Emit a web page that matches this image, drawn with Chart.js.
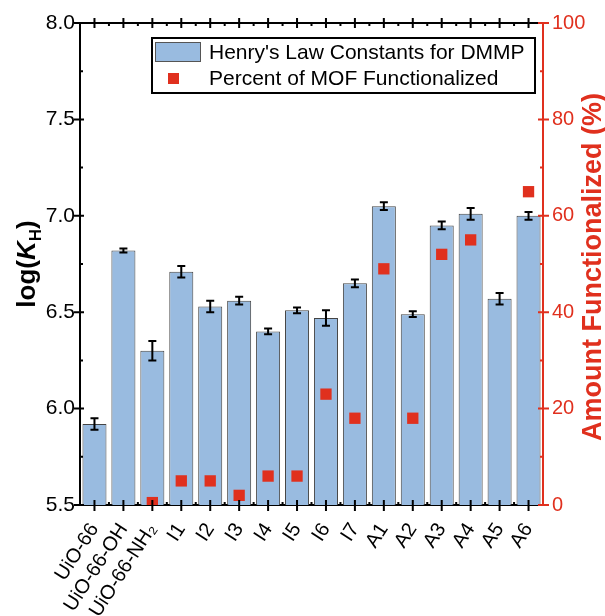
<!DOCTYPE html>
<html>
<head>
<meta charset="utf-8">
<script src="https://cdn.jsdelivr.net/npm/chart.js@4.4.1/dist/chart.umd.min.js"></script>
<style>
  html, body { margin: 0; padding: 0; background: #fff; }
  #wrap { width: 605px; height: 616px; }
</style>
</head>
<body>
<div id="wrap"><canvas id="c" width="605" height="616"></canvas></div>
<script>
const labels = ["UiO-66", "UiO-66-OH", "UiO-66-NH\u2082", "I1", "I2", "I3", "I4", "I5", "I6", "I7", "A1", "A2", "A3", "A4", "A5", "A6"];
const logKH = [5.92, 6.82, 6.30, 6.71, 6.53, 6.56, 6.40, 6.51, 6.47, 6.65, 7.05, 6.49, 6.95, 7.01, 6.57, 7.00];
const logKHErr = [0.03, 0.01, 0.05, 0.03, 0.03, 0.02, 0.015, 0.015, 0.04, 0.02, 0.02, 0.015, 0.02, 0.03, 0.03, 0.02];
const pctFunctionalized = [null, null, 0.5, 5, 5, 2, 6, 6, 23, 18, 49, 18, 52, 55, null, 65];
const leftTicks = [5.5, 6.0, 6.5, 7.0, 7.5, 8.0];
const rightTicks = [0, 20, 40, 60, 80, 100];

const RED = "#e0301e";
const BLUE = "#99bbe0";
const FONT = "'Liberation Sans', Arial, sans-serif";

// error bars, custom ticks, axis titles and the boxed legend
const decor = {
  id: "decor",
  afterDatasetsDraw(chart) {
    const { ctx, scales: { x, y } } = chart;
    ctx.save();
    ctx.strokeStyle = "#000";
    ctx.lineWidth = 2;
    logKH.forEach((v, i) => {
      const e = logKHErr[i];
      const px = x.getPixelForValue(i);
      const y0 = y.getPixelForValue(v - e);
      const y1 = y.getPixelForValue(v + e);
      ctx.beginPath();
      ctx.moveTo(px, y0); ctx.lineTo(px, y1);
      ctx.moveTo(px - 4, y0); ctx.lineTo(px + 4, y0);
      ctx.moveTo(px - 4, y1); ctx.lineTo(px + 4, y1);
      ctx.stroke();
    });
    ctx.restore();
  },
  afterDraw(chart) {
    const { ctx, chartArea: { left, right, top, bottom }, scales: { x, y, y1 } } = chart;
    ctx.save();
    ctx.lineWidth = 2;
    ctx.strokeStyle = "#000";
    // top frame line
    ctx.beginPath();
    ctx.moveTo(left, top); ctx.lineTo(right, top);
    ctx.stroke();
    // category ticks, top and bottom
    const step = x.getPixelForValue(1) - x.getPixelForValue(0);
    ctx.beginPath();
    labels.forEach((_, i) => {
      const px = x.getPixelForValue(i);
      ctx.moveTo(px, bottom - 5); ctx.lineTo(px, bottom + 6);
      ctx.moveTo(px, top - 5); ctx.lineTo(px, top + 5);
      if (i < labels.length - 1) {
        const m = px + step / 2;
        ctx.moveTo(m, bottom); ctx.lineTo(m, bottom - 3);
        ctx.moveTo(m, top); ctx.lineTo(m, top + 3);
      }
    });
    // left axis ticks
    leftTicks.forEach((v, i) => {
      const py = y.getPixelForValue(v);
      ctx.moveTo(left - 6, py); ctx.lineTo(left + 4, py);
      if (i < leftTicks.length - 1) {
        const m = y.getPixelForValue(v + 0.25);
        ctx.moveTo(left, m); ctx.lineTo(left + 3, m);
      }
    });
    ctx.stroke();
    // right axis ticks
    ctx.strokeStyle = RED;
    ctx.beginPath();
    rightTicks.forEach((v, i) => {
      const py = y1.getPixelForValue(v);
      ctx.moveTo(right - 5, py); ctx.lineTo(right + 6, py);
      if (i < rightTicks.length - 1) {
        const m = y1.getPixelForValue(v + 10);
        ctx.moveTo(right, m); ctx.lineTo(right - 3, m);
      }
    });
    ctx.stroke();

    // left title: log(K_H)
    ctx.fillStyle = "#000";
    ctx.textBaseline = "alphabetic";
    const fBold = "bold 26px " + FONT;
    const fItal = "italic bold 26px " + FONT;
    const fSub = "bold 17px " + FONT;
    const parts = [["log(", fBold, 0], ["K", fItal, 0], ["H", fSub, 6], [")", fBold, 0]];
    let total = 0;
    parts.forEach(p => { ctx.font = p[1]; total += ctx.measureText(p[0]).width; });
    ctx.save();
    ctx.translate(35, (top + bottom) / 2);
    ctx.rotate(-Math.PI / 2);
    let cx = -total / 2;
    parts.forEach(p => {
      ctx.font = p[1];
      ctx.fillText(p[0], cx, p[2]);
      cx += ctx.measureText(p[0]).width;
    });
    ctx.restore();

    // right title
    ctx.save();
    ctx.fillStyle = RED;
    ctx.font = "bold 27px " + FONT;
    ctx.textAlign = "center";
    ctx.translate(601, (top + bottom) / 2 + 3);
    ctx.rotate(-Math.PI / 2);
    ctx.fillText("Amount Functionalized (%)", 0, 0);
    ctx.restore();

    // legend box
    const lx = left + 72, ly = top + 15, lw = right - 8 - (left + 72), lh = 55;
    ctx.fillStyle = "#fff";
    ctx.fillRect(lx, ly, lw, lh);
    ctx.strokeStyle = "#000";
    ctx.lineWidth = 2;
    ctx.strokeRect(lx, ly, lw, lh);
    ctx.fillStyle = BLUE;
    ctx.fillRect(lx + 3, ly + 4, 46, 20);
    ctx.strokeStyle = "#555";
    ctx.lineWidth = 1;
    ctx.strokeRect(lx + 3.5, ly + 4.5, 45, 19);
    ctx.fillStyle = RED;
    ctx.fillRect(lx + 16, ly + 35, 11, 11);
    ctx.fillStyle = "#000";
    ctx.font = "21px " + FONT;
    ctx.textBaseline = "middle";
    ctx.textAlign = "left";
    ctx.fillText("Henry's Law Constants for DMMP", lx + 57, ly + 15);
    ctx.fillText("Percent of MOF Functionalized", lx + 57, ly + 41);
    ctx.restore();
  }
};

new Chart(document.getElementById("c"), {
  data: {
    labels,
    datasets: [
      {
        type: "line",
        label: "Percent of MOF Functionalized",
        data: pctFunctionalized,
        yAxisID: "y1",
        showLine: false,
        pointStyle: "rect",
        pointRadius: 8,
        pointBackgroundColor: RED,
        pointBorderWidth: 0,
        order: 0
      },
      {
        type: "bar",
        label: "Henry's Law Constants for DMMP",
        data: logKH,
        yAxisID: "y",
        backgroundColor: BLUE,
        borderColor: "#444",
        borderWidth: 1,
        barPercentage: 0.83,
        categoryPercentage: 1,
        order: 1
      }
    ]
  },
  options: {
    responsive: false,
    animation: false,
    layout: { padding: { top: 23, left: 0, right: 0, bottom: 0 } },
    plugins: { legend: { display: false }, tooltip: { enabled: false } },
    scales: {
      x: {
        offset: true,
        grid: { display: false, drawTicks: false },
        border: { color: "#000", width: 2 },
        ticks: {
          color: "#000",
          font: { family: FONT, size: 20 },
          minRotation: 57,
          maxRotation: 57,
          padding: 14,
          autoSkip: false
        },
        afterFit(s) { s.height = 111; }
      },
      y: {
        position: "left",
        min: 5.5,
        max: 8.0,
        grid: { display: false, drawTicks: false },
        border: { color: "#000", width: 2 },
        afterBuildTicks(s) { s.ticks = leftTicks.map(v => ({ value: v })); },
        ticks: {
          color: "#000",
          font: { family: FONT, size: 21 },
          padding: 5,
          callback: v => v.toFixed(1)
        },
        afterFit(s) { s.width = 80; }
      },
      y1: {
        position: "right",
        min: 0,
        max: 100,
        grid: { display: false, drawTicks: false },
        border: { color: RED, width: 2 },
        afterBuildTicks(s) { s.ticks = rightTicks.map(v => ({ value: v })); },
        ticks: {
          color: RED,
          font: { family: FONT, size: 20 },
          padding: 9
        },
        afterFit(s) { s.width = 62; }
      }
    }
  },
  plugins: [decor]
});
</script>
</body>
</html>
